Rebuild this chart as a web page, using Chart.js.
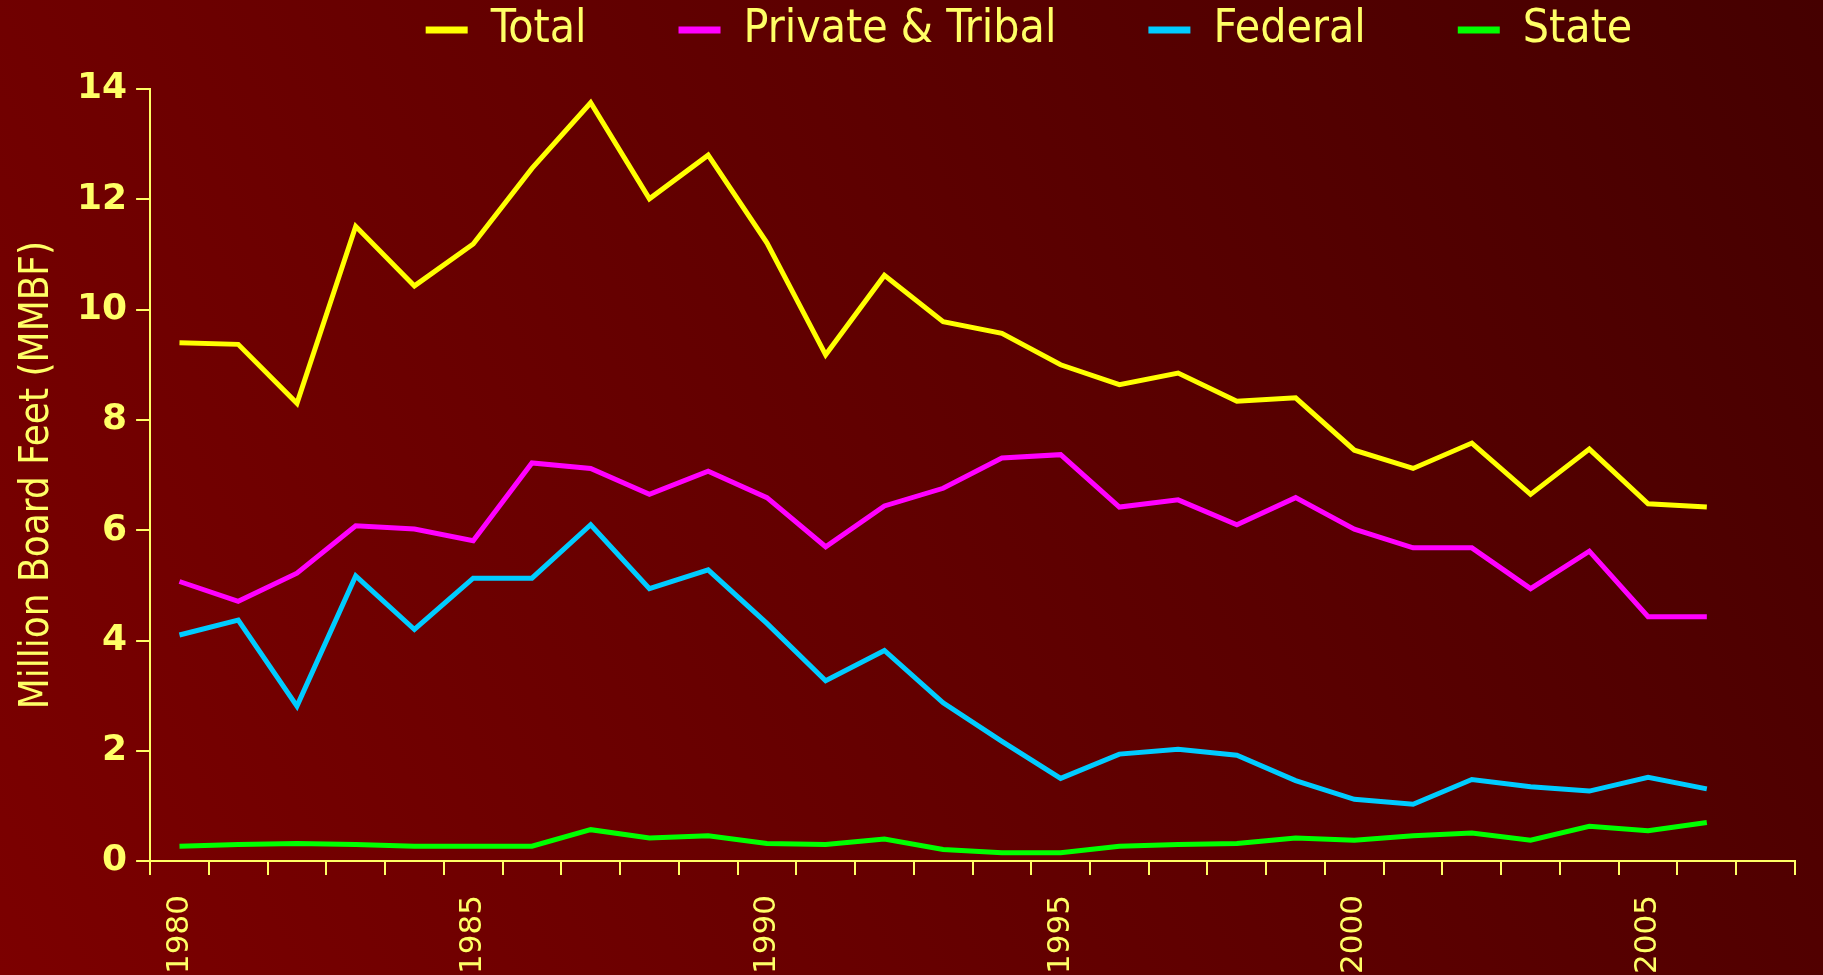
<!DOCTYPE html>
<html>
<head>
<meta charset="utf-8">
<script src="https://cdn.jsdelivr.net/npm/chart.js@4"></script>
<style>
  html, body { margin: 0; padding: 0; background: #600000; }
  #wrap { width: 1823px; height: 975px; }
</style>
</head>
<body>
<div id="wrap"><canvas id="harvestChart" width="1823" height="975"></canvas></div>
<script>
// years on the x axis (2007 slot is empty, as in the original)
const years = [];
for (let y = 1980; y <= 2007; y++) years.push(String(y));

const totalHarvest = [9.40, 9.37, 8.30, 11.51, 10.43, 11.19, 12.56, 13.75, 12.01, 12.80, 11.21, 9.18, 10.62, 9.78,
  9.57, 9.00, 8.64, 8.85, 8.34, 8.40, 7.45, 7.12, 7.58, 6.65, 7.47, 6.48, 6.42];
const privateTribal = [5.07, 4.71, 5.22, 6.08, 6.02, 5.81, 7.22, 7.12, 6.65, 7.07, 6.59, 5.70, 6.44, 6.76,
  7.31, 7.37, 6.42, 6.55, 6.10, 6.59, 6.02, 5.68, 5.68, 4.94, 5.62, 4.43, 4.43];
const federal = [4.10, 4.37, 2.81, 5.17, 4.20, 5.13, 5.13, 6.10, 4.94, 5.28, 4.31, 3.27, 3.82, 2.87,
  2.17, 1.50, 1.94, 2.03, 1.92, 1.46, 1.12, 1.03, 1.48, 1.35, 1.27, 1.52, 1.31];
const state = [0.27, 0.30, 0.32, 0.30, 0.27, 0.27, 0.27, 0.57, 0.42, 0.46, 0.32, 0.30, 0.40, 0.21,
  0.15, 0.15, 0.27, 0.30, 0.32, 0.42, 0.38, 0.46, 0.51, 0.38, 0.63, 0.55, 0.70];

const yTicks = [0, 2, 4, 6, 8, 10, 12, 14];

const textColor = '#ffff66';
const narrowFont = "'Liberation Sans Narrow', 'DejaVu Sans Condensed', sans-serif";
const legendPad = 92;

// dark red diagonal background
const bgPlugin = {
  id: 'bg',
  beforeDraw(chart) {
    const ctx = chart.ctx;
    const w = chart.width, h = chart.height;
    const g = ctx.createLinearGradient(0, h, w, 0);
    g.addColorStop(0, '#7c0000');
    g.addColorStop(1, '#450000');
    ctx.save();
    ctx.fillStyle = g;
    ctx.fillRect(0, 0, w, h);
    ctx.restore();
  }
};

// put the legend where the original has it (right of centre, close to the top)
const legendShift = {
  id: 'legendShift',
  afterLayout(chart) {
    const lg = chart.legend;
    if (!lg) return;
    lg.left += 117;
    lg.right += 117;
    lg.top = 7 - legendPad;
    lg.bottom = 85; // keeps the clip box over the visible text
  }
};

function makeSet(label, data, color) {
  return {
    label: label,
    data: data,
    borderColor: color,
    backgroundColor: color,
    borderWidth: 5,
    pointRadius: 0,
    tension: 0,
    fill: false
  };
}

const ctx = document.getElementById('harvestChart').getContext('2d');
const chart = new Chart(ctx, {
  type: 'line',
  data: {
    labels: years,
    datasets: [
      makeSet('Total', totalHarvest, '#ffff00'),
      makeSet('Private & Tribal', privateTribal, '#ff00ff'),
      makeSet('Federal', federal, '#00ccff'),
      makeSet('State', state, '#00ff00')
    ]
  },
  options: {
    responsive: false,
    animation: false,
    layout: { padding: { left: 14, right: 13, top: 0, bottom: -19 } },
    plugins: {
      legend: {
        position: 'top',
        maxHeight: 89,
        labels: {
          color: textColor,
          font: { family: narrowFont, size: 46 },
          boxWidth: 42,
          boxHeight: 7,
          padding: legendPad,
          generateLabels: function (chart) {
            const items = Chart.defaults.plugins.legend.labels.generateLabels(chart);
            items.forEach(it => { it.lineWidth = 0; });
            return items;
          }
        }
      },
      tooltip: { enabled: false }
    },
    scales: {
      x: {
        offset: true,
        border: { color: textColor, width: 2 },
        grid: { offset: true, drawOnChartArea: false, color: textColor, tickLength: 14, lineWidth: 2 },
        ticks: {
          autoSkip: false,
          minRotation: 90,
          maxRotation: 90,
          color: textColor,
          padding: 20,
          font: { family: "'DejaVu Sans', sans-serif", size: 31 },
          callback: function (val, i) {
            const y = Number(years[i]);
            return (y % 5 === 0 && y < 2007) ? years[i] : '';
          }
        }
      },
      y: {
        min: 0,
        max: 14,
        afterBuildTicks: (axis) => { axis.ticks = yTicks.map(v => ({ value: v })); },
        border: { color: textColor, width: 2 },
        grid: { drawOnChartArea: false, color: textColor, tickLength: 14, lineWidth: 2 },
        ticks: {
          color: textColor,
          padding: 9,
          font: { family: "'DejaVu Sans', sans-serif", size: 36, weight: 'bold' }
        },
        title: {
          display: true,
          text: 'Million Board Feet (MMBF)',
          color: textColor,
          padding: { top: 0, bottom: 6 },
          font: { family: narrowFont, size: 40 }
        }
      }
    }
  },
  plugins: [bgPlugin, legendShift]
});
</script>
</body>
</html>
